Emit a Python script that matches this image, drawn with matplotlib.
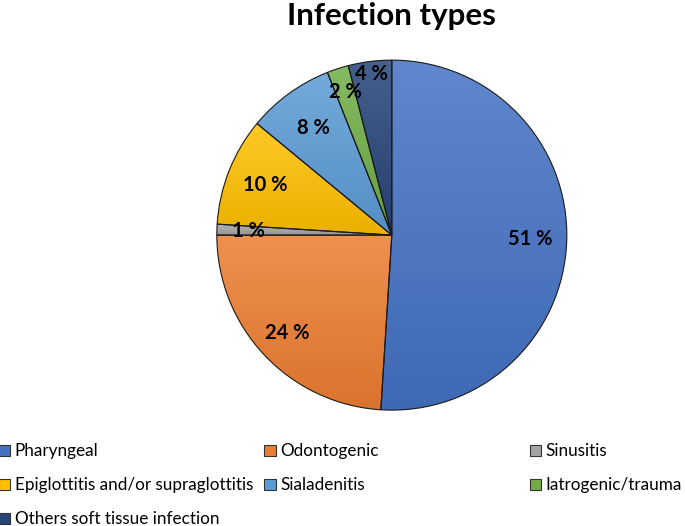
import matplotlib.pyplot as plt
import matplotlib.colors as mcolors
from matplotlib.patches import Patch
import numpy as np

plt.rcParams['font.family'] = ['Lato', 'DejaVu Sans']

categorias = ['Pharyngeal', 'Odontogenic', 'Sinusitis', 'Epiglottitis and/or supraglottitis',
              'Sialadenitis', 'Iatrogenic/trauma', 'Others soft tissue infection']
valores = [51, 24, 1, 10, 8, 2, 4]
etiquetas = ['51 %', '24 %', '1 %', '10 %', '8 %', '2 %', '4 %']
colores = ['#4472C4', '#ED7D31', '#A5A5A5', '#FFC000', '#5B9BD5', '#70AD47', '#264478']
# distancia de cada etiqueta al centro (fracción del radio)
dist_etiquetas = [0.79, 0.82, 0.82, 0.78, 0.76, 0.86, 0.93]


def aclarar(c, f):
    r, g, b = mcolors.to_rgb(c)
    return (r + (1 - r) * f, g + (1 - g) * f, b + (1 - b) * f)


def oscurecer(c, f):
    r, g, b = mcolors.to_rgb(c)
    return (r * (1 - f), g * (1 - f), b * (1 - f))


fig = plt.figure(figsize=(6.85, 5.26), dpi=100)
ax = fig.add_axes([0.572 - 0.2555, 0.553 - 0.3327, 0.511, 0.6654])

wedges, _ = ax.pie(valores, startangle=90, counterclock=False, radius=1,
                   wedgeprops=dict(edgecolor='#1a1a1a', linewidth=0.8))

# relleno degradado (claro arriba, oscuro abajo) como en Excel
for w, c in zip(wedges, colores):
    w.set_facecolor('none')
    t = np.radians(np.linspace(w.theta1, w.theta2, 100))
    xs = np.concatenate([[0], np.cos(t)])
    ys = np.concatenate([[0], np.sin(t)])
    top = aclarar(c, 0.15)
    bot = oscurecer(c, 0.08)
    grad = np.linspace(0, 1, 100)
    img = np.array([[top[i] * (1 - g) + bot[i] * g for i in range(3)] for g in grad])
    img = img[:, None, :]
    im = ax.imshow(img, extent=[xs.min(), xs.max(), ys.min(), ys.max()], origin='upper',
                   aspect='auto', zorder=0.5)
    im.set_clip_path(w)

for w, lab, d in zip(wedges, etiquetas, dist_etiquetas):
    ang = np.radians((w.theta1 + w.theta2) / 2)
    ax.text(d * np.cos(ang), d * np.sin(ang), lab, ha='center', va='center',
            fontsize=14.5, fontweight='bold', color='black', zorder=3)

ax.set_xlim(-1, 1)
ax.set_ylim(-1, 1)
ax.set_aspect('equal')
ax.axis('off')

fig.text(0.572, 0.970, 'Infection types', ha='center', va='center',
         fontsize=22.5, fontweight='bold')

manejadores = [Patch(facecolor=c, edgecolor='#333333', linewidth=0.8) for c in colores]
columnas = [[0, 3, 6], [1, 4], [2, 5]]
xs_col = [-0.002, 0.386, 0.773]
for col, x0 in zip(columnas, xs_col):
    fig.legend([manejadores[i] for i in col], [categorias[i] for i in col],
               loc='upper left', bbox_to_anchor=(x0, 0.157), frameon=False,
               fontsize=12.3, handlelength=0.65, handleheight=0.65, handletextpad=0.3,
               labelspacing=1.05, borderaxespad=0, borderpad=0)

fig.savefig('out.png', dpi=100)
